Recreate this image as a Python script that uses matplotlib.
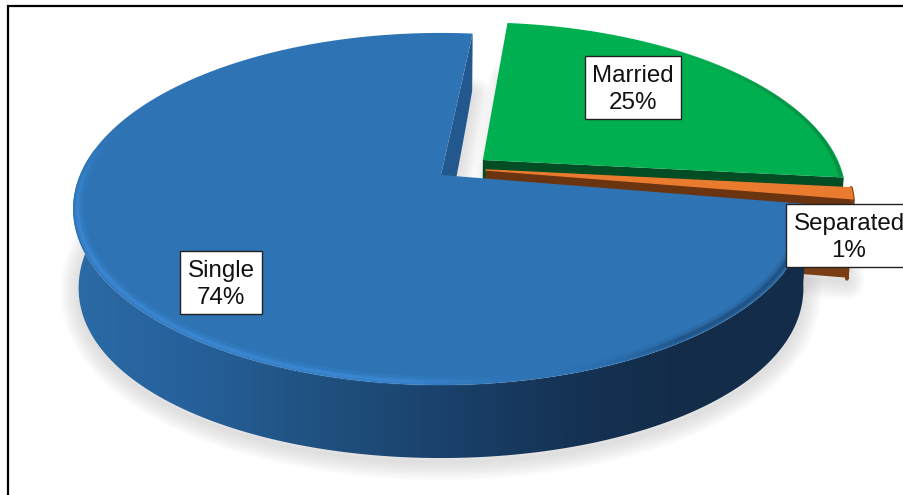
"""Exploded 3D-look pie of marital status."""
import numpy as np
import matplotlib
matplotlib.use("Agg")
import matplotlib.pyplot as plt
from matplotlib.collections import LineCollection
from matplotlib.colors import LinearSegmentedColormap, to_rgb
from matplotlib.patches import Polygon, Rectangle

categories = ["Married", "Separated", "Single"]
percents = [25, 1, 74]
label_text = ["Married\n25%", "Separated\n1%", "Single\n74%"]

START_ANGLE = 84.0

# projection of the tilted disc onto the picture, in pixels
XC, YC = 441.0, 175.0
A, B = 361.0, 169.5
K = 0.193

# slice styling, in the same order as the categories
explode = [(0.118, 0.09), (0.125, 0.03), (0.0, 0.0)]
top_cols = ["#00b050", "#ea7b2e", "#2e74b5"]
wall_cols = ["#024d23", "#6b3411", "#23588f"]
boxes = [(585, 56, 96, 63), (786, 204, 130, 63), (180, 251, 82, 63)]

plt.rcParams["font.family"] = ["Liberation Sans", "DejaVu Sans"]


def project(u, v, z=0.0):
    u, v = np.asarray(u, float), np.asarray(v, float)
    x = XC + A * (1 - 0.015 * z) * u / (1 + K * v)
    y = YC - B * v / (1 + K * v) + z * (78 - 8 * v - 13 * v ** 2)
    return np.column_stack([x, y])


def arc(a0, a1, off, z=0.0, r=1.0, n=160):
    t = np.radians(np.linspace(a0, a1, n))
    return project(off[0] + r * np.cos(t), off[1] + r * np.sin(t), z)


def slice_poly(a0, a1, off, z=0.0):
    apex = project([off[0]], [off[1]], z)
    return np.vstack([apex, arc(a0, a1, off, z)])


def radial_wall(ang, off):
    t = np.radians(ang)
    s = np.linspace(0, 1, 30)
    u = off[0] + s * np.cos(t)
    v = off[1] + s * np.sin(t)
    return np.vstack([project(u, v), project(u, v, 1.0)[::-1]])


def rim_wall(a0, a1, off):
    return np.vstack([arc(a0, a1, off), arc(a0, a1, off, 1.0)[::-1]])


def rim_light(ax, a0, a1, off, stops, lw, r=0.992, zorder=6):
    pts = arc(a0, a1, off, r=r, n=240)
    segs = np.stack([pts[:-1], pts[1:]], axis=1)
    angs = np.linspace(a0, a1, 239)
    xs = [s[0] for s in stops]
    rgba = []
    for c in range(4):
        ys = [(to_rgb(s[1]) + (s[2],))[c] for s in stops]
        rgba.append(np.interp(angs, xs, ys))
    ax.add_collection(LineCollection(segs, colors=np.column_stack(rgba),
                                     linewidths=lw, capstyle="butt", zorder=zorder))


# slice angles come from the values, clockwise from the start angle
sweep = np.array(percents) / sum(percents) * 360.0
ends = START_ANGLE - np.cumsum(sweep)
starts = ends + sweep

fig = plt.figure(figsize=(9.04, 4.95), dpi=100)
ax = fig.add_axes([0, 0, 1, 1])

# soft shadow around the foot of each slice
for i in range(3):
    a0, a1 = ends[i], starts[i]
    foot = slice_poly(a0, a1, explode[i], 1.0) + [0, 4]
    for lw in np.arange(2, 27, 3):
        ax.add_patch(Polygon(foot, closed=True, fill=False, edgecolor="#808080",
                             linewidth=lw, alpha=0.028, joinstyle="round", zorder=1))

# green slice
off = explode[0]
ax.fill(*radial_wall(ends[0], off).T, color=wall_cols[0], lw=0, zorder=2)
ax.fill(*slice_poly(ends[0], starts[0], off).T, color=top_cols[0], lw=0, zorder=3)
rim_light(ax, ends[0], starts[0] - 25, off,
          [(ends[0], "#078a42", 1.0), (25, "#078a42", 0.7), (starts[0] - 25, "#00b050", 0.0)], 2.5, zorder=3.5)

# orange slice, rounded off at the outer corner
off = explode[1]
ax.fill(*rim_wall(ends[1] - 0.4, starts[1], off).T, facecolor="#7a3d14", edgecolor="#7a3d14",
        lw=2.5, joinstyle="round", zorder=4)
ax.fill(*radial_wall(ends[1], off).T, color="#7a3d14", lw=0, zorder=4)
ax.fill(*radial_wall(starts[1], off).T, color=wall_cols[1], lw=0, zorder=4.1)
ax.fill(*slice_poly(ends[1], starts[1], off).T, facecolor=top_cols[1], edgecolor=top_cols[1],
        lw=1.0, joinstyle="round", zorder=4.2)

# blue slice: inner wall, gradient rim wall, top face
off = explode[2]
ax.fill(*radial_wall(ends[2], off).T, color=wall_cols[2], lw=0, zorder=5)
rim = Polygon(rim_wall(150, starts[2] + 360, off), closed=True,
              transform=ax.transData, facecolor="none", edgecolor="none")
ax.add_patch(rim)
wall_cmap = LinearSegmentedColormap.from_list(
    "wall", ["#2b6ba6", "#26609a", "#205180", "#1a426c", "#153355", "#132c49", "#132c49"])
grad = ax.imshow(np.linspace(0, 1, 512)[None, :], cmap=wall_cmap, aspect="auto",
                 extent=(70, 810, 470, 150), zorder=5.1)
grad.set_clip_path(rim)
ax.fill(*slice_poly(ends[2], starts[2], off).T, color=top_cols[2], lw=0, zorder=5.5)

# soft bevel along the front edge of the blue face
for lw, r, alpha in [(7.0, 0.985, 0.25), (4.0, 0.988, 0.45), (2.0, 0.988, 0.6)]:
    rim_light(ax, 165, 350, off,
              [(165, "#3d8ad6", 0.0), (195, "#3d8ad6", alpha), (265, "#3d8ad6", alpha),
               (285, "#2e74b5", 0.0), (305, "#1d4a78", alpha * 0.8), (350, "#1d4a78", alpha)], lw, r=r)

# label boxes
for (x, y, w, h), txt in zip(boxes, label_text):
    ax.add_patch(Rectangle((x, y), w, h, facecolor="white", edgecolor="#222222",
                           linewidth=1.0, zorder=8))
    cx = x + w / 2 if txt != label_text[1] else 849
    ax.text(cx, y + h / 2 + 2, txt, ha="center", va="center", fontsize=17.4,
            color="#111111", linespacing=1.28, zorder=9)

# chart frame, running off the right and bottom of the image
ax.plot([7.8, 7.8, 910], [500, 6.2, 6.2], color="black", lw=1.6, zorder=10,
        solid_joinstyle="miter")

ax.set_xlim(0, 904)
ax.set_ylim(495, 0)
ax.axis("off")
fig.savefig("out.png", dpi=100)
